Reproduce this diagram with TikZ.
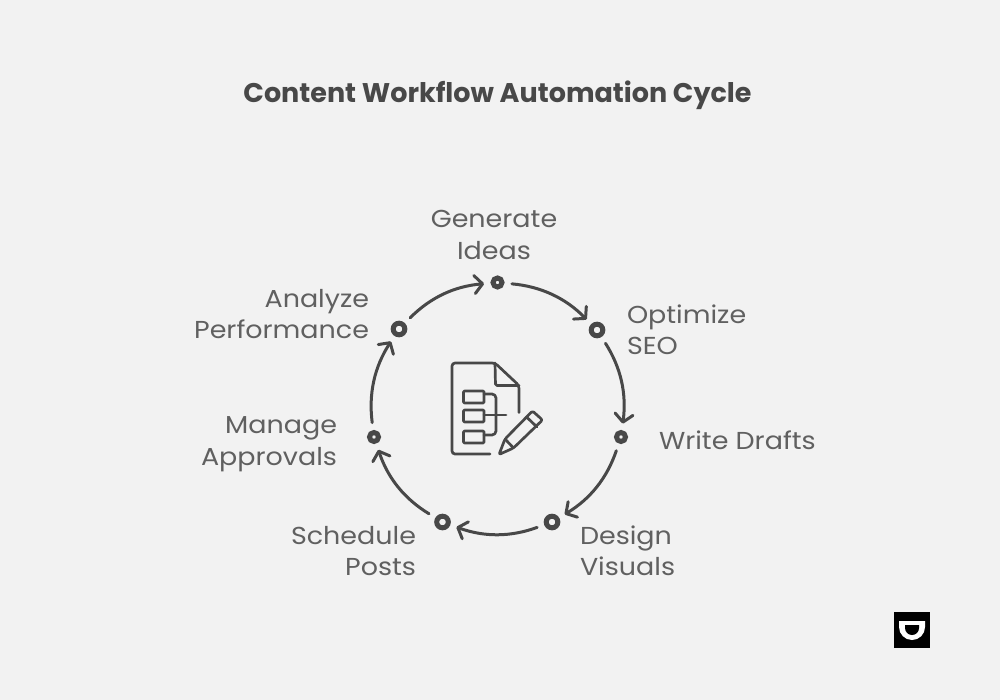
\documentclass[tikz,border=0pt]{standalone}
\usepackage{fontspec}
\setmainfont{Poppins}
\newfontfamily\lblfont[FakeStretch=1.1]{Poppins}
\usetikzlibrary{arrows.meta}
\definecolor{bg}{HTML}{F2F2F2}
\definecolor{ink}{HTML}{484848}
\definecolor{lab}{HTML}{606060}
\tikzset{
  x=1pt,y=-1pt,
  lbl/.style={inner sep=0pt,outer sep=0pt,text=lab,font=\lblfont\fontsize{24.5}{31.5}\selectfont},
  ttl/.style={inner sep=0pt,text=ink,font=\fontsize{27}{30}\selectfont\bfseries},
  dotm/.style={circle,draw=ink,fill=none,line width=#1,inner sep=0pt,outer sep=0pt},
  dots/.style={dotm=5pt,minimum size=9pt},
  dotb/.style={dotm=5pt,minimum size=11.6pt},
  flow/.style={draw=ink,line width=3pt,line cap=round,-{Straight Barb[length=8pt,width=18pt,line width=3pt,round]},bend left=20,shorten <=10pt,shorten >=9pt},
  ico/.style={draw=ink,line width=2.7pt,line cap=round,line join=round}
}
\begin{document}
\begin{tikzpicture}
\useasboundingbox (0,0) rectangle (1000,700);
\fill[bg] (0,0) rectangle (1000,700);
\node[ttl] (title) at (497.5,95.5) {Content Workflow Automation Cycle};

\node[dots] (n1) at (497.5,282.5) {};
\node[dotb] (n2) at (597,330) {};
\node[dots] (n3) at (621,437) {};
\node[dotb] (n4) at (552,522) {};
\node[dotb] (n5) at (442.5,522) {};
\node[dots] (n6) at (374,437) {};
\node[dotb] (n7) at (399,329) {};

\draw[flow] (n1) to (n2);
\draw[flow] (n2) to (n3);
\draw[flow] (n3) to (n4);
\draw[flow] (n4) to (n5);
\draw[flow] (n5) to (n6);
\draw[flow] (n6) to (n7);
\draw[flow] (n7) to (n1);

\node[lbl,align=center,anchor=center] (l1) at (494,235) {Generate\\Ideas};
\node[lbl,align=left,anchor=west] (l2) at (627,330) {Optimize\\SEO};
\node[lbl,align=left,anchor=west] (l3) at (659,440) {Write Drafts};
\node[lbl,align=left,anchor=west] (l4) at (580,551) {Design\\Visuals};
\node[lbl,align=right,anchor=east] (l5) at (416,551) {Schedule\\Posts};
\node[lbl,align=right,anchor=east] (l6) at (337,444) {Manage\\Approvals};
\node[lbl,align=right,anchor=east] (l7) at (369,314) {Analyze\\Performance};

% central icon
\draw[ico,rounded corners=3pt] (490,454) -- (452,454) -- (452,363) -- (495,363) -- (519,385.5) -- (519,412.5);
\draw[ico,rounded corners=1.5pt] (495,363) -- (495.5,385.5) -- (519,385.5);
\draw[ico,rounded corners=1pt] (463.5,391) rectangle (484,403);
\draw[ico,rounded corners=1pt] (463.5,410) rectangle (484,422);
\draw[ico,rounded corners=1pt] (463.5,431) rectangle (484,443);
\draw[ico,rounded corners=4pt] (484,394) -- (496,394) -- (496,435) -- (484,435);
\draw[ico] (484,415) -- (506,415);
\draw[ico,rounded corners=2pt] (499,454.5) -- (505,439) -- (532.5,411) -- (542.5,420) -- (513.5,448) -- cycle;
\draw[ico] (505,439) -- (513.5,448);
\draw[ico] (526.5,417) -- (537,427);

% logo
\fill[black] (894,612) rectangle (930,648);
\fill[white] (899,621) -- (925,621) -- (925,627) arc[start angle=0,end angle=180,x radius=13,y radius=13] -- cycle;
\fill[black] (905,625) -- (919,625) -- (919,628) arc[start angle=0,end angle=180,x radius=7,y radius=7] -- cycle;
\end{tikzpicture}
\end{document}
